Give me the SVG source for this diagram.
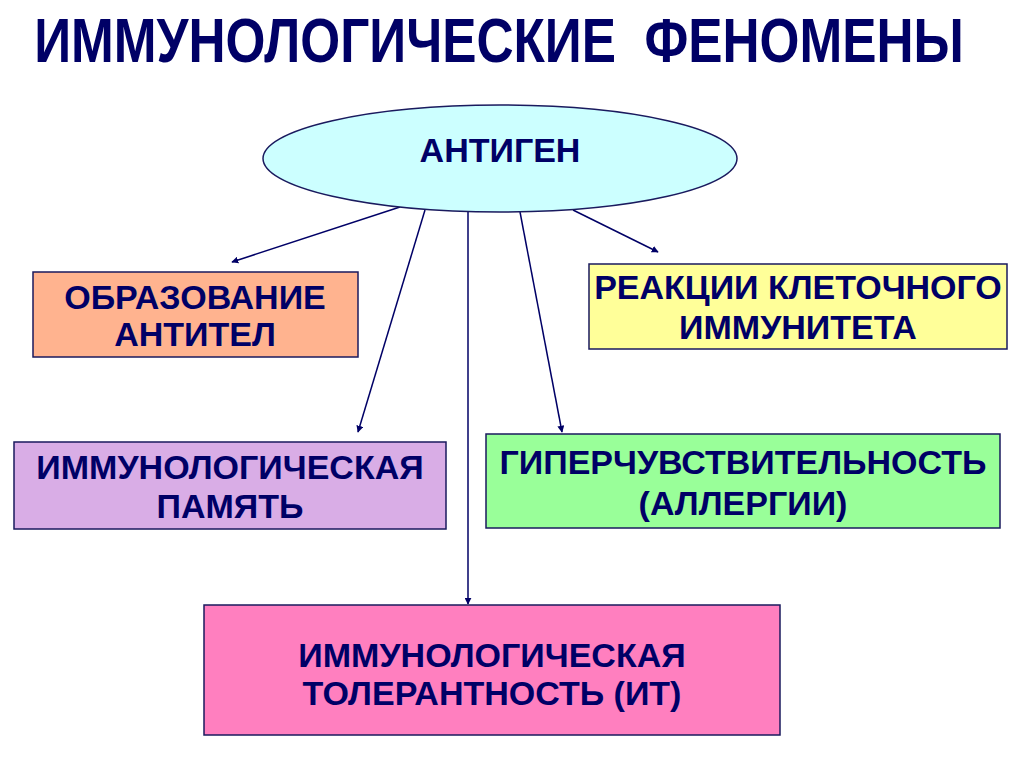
<svg xmlns="http://www.w3.org/2000/svg" width="1024" height="767" viewBox="0 0 1024 767">
<style>
.t{font-family:"Liberation Sans",Arial,sans-serif;font-weight:bold;fill:#000066;text-anchor:middle}
.b{font-size:34px}
.box{stroke:#1a1a5e;stroke-width:1.5}
.c{stroke:#000066;stroke-width:1.5;fill:none;marker-end:url(#ah)}
</style>
<defs>
<marker id="ah" viewBox="0 0 10 10" refX="9" refY="5" markerWidth="7" markerHeight="7" markerUnits="userSpaceOnUse" orient="auto">
<path d="M0,0 L10,5 L0,10 z" fill="#000066"/>
</marker>
</defs>
<rect width="1024" height="767" fill="#ffffff"/>
<g transform="translate(499,62) scale(0.815,1)">
<text class="t" x="0" y="0" font-size="63" xml:space="preserve">ИММУНОЛОГИЧЕСКИЕ  ФЕНОМЕНЫ</text>
</g>
<g id="connectors">
<line class="c" x1="400" y1="207" x2="232" y2="262"/>
<line class="c" x1="425" y1="210" x2="358" y2="432"/>
<line class="c" x1="468" y1="212" x2="468" y2="604"/>
<line class="c" x1="520" y1="212" x2="562" y2="432"/>
<line class="c" x1="573" y1="210" x2="658" y2="252"/>
</g>
<g id="antigen">
<ellipse class="box" cx="500" cy="158.5" rx="237" ry="53.5" fill="#ccffff"/>
<text class="t" x="500" y="162" font-size="34">АНТИГЕН</text>
</g>
<g id="antibodies">
<rect class="box" x="33" y="272" width="325" height="85" fill="#ffb38f"/>
<text class="t b" x="195" y="309">ОБРАЗОВАНИЕ</text>
<text class="t b" x="195" y="346">АНТИТЕЛ</text>
</g>
<g id="cellular">
<rect class="box" x="589" y="264" width="418" height="85" fill="#ffff99"/>
<text class="t b" x="798" y="299">РЕАКЦИИ КЛЕТОЧНОГО</text>
<text class="t b" x="798" y="339">ИММУНИТЕТА</text>
</g>
<g id="memory">
<rect class="box" x="14" y="442" width="432" height="87" fill="#d9ade6"/>
<text class="t b" x="230" y="479">ИММУНОЛОГИЧЕСКАЯ</text>
<text class="t b" x="230" y="518">ПАМЯТЬ</text>
</g>
<g id="hypersensitivity">
<rect class="box" x="486" y="434" width="514" height="94" fill="#99ff99"/>
<text class="t b" x="743" y="474">ГИПЕРЧУВСТВИТЕЛЬНОСТЬ</text>
<text class="t b" x="743" y="515">(АЛЛЕРГИИ)</text>
</g>
<g id="tolerance">
<rect class="box" x="204" y="605" width="576" height="130" fill="#ff7fbf"/>
<text class="t b" x="492" y="667">ИММУНОЛОГИЧЕСКАЯ</text>
<text class="t b" x="492" y="705">ТОЛЕРАНТНОСТЬ (ИТ)</text>
</g>
</svg>
